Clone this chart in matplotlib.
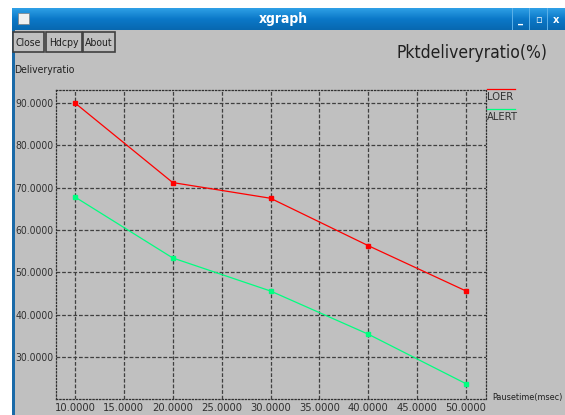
import numpy as np
import matplotlib
matplotlib.use("Agg")
import matplotlib.pyplot as plt
from matplotlib.patches import Rectangle

# data
pause_time = [10, 20, 30, 40, 50]
loer = [90.0, 71.2, 67.5, 56.3, 45.6]
alert = [67.8, 53.4, 45.6, 35.4, 23.7]
x_ticks = [10, 15, 20, 25, 30, 35, 40, 45, 50]
y_ticks = [30, 40, 50, 60, 70, 80, 90]

W, H = 565, 415
plt.rcParams['font.family'] = ['DejaVu Sans']
plt.rcParams['font.stretch'] = 'condensed'

fig = plt.figure(figsize=(W / 100, H / 100), dpi=100)
fig.patch.set_facecolor('white')


def box(x, y, w, h):
    # pixel box (top-left origin) -> figure fractions
    return [x / W, 1 - (y + h) / H, w / W, h / H]


def rect(x, y, w, h, **kw):
    r = Rectangle((x / W, 1 - (y + h) / H), w / W, h / H, transform=fig.transFigure, **kw)
    fig.add_artist(r)
    return r


def txt(x, y, s, **kw):
    kw.setdefault('zorder', 10)
    fig.text(x / W, 1 - y / H, s, **kw)


# window body
rect(12, 8, W - 12, H - 8, facecolor='#c0c0c0', edgecolor='none', zorder=-1)
rect(12, 8, 2.5, H - 8, facecolor='#1a6aa8', edgecolor='none', zorder=-1)

# title bar gradient
tb = fig.add_axes(box(12, 8, W - 12, 22))
grad = np.linspace(0, 1, 50).reshape(-1, 1)
tb.imshow(grad, aspect='auto', cmap=matplotlib.colors.LinearSegmentedColormap.from_list(
    'tb', ['#2ea0e6', '#0b78c8', '#0868b0']), extent=[0, 1, 0, 1])
tb.set_axis_off()
txt(283, 19, 'xgraph', color='white', fontsize=10, fontweight='bold',
    ha='center', va='center')
rect(18, 13, 11, 11, facecolor='#f0f0f0', edgecolor='#808080', lw=0.5, zorder=5)
for bx, sym in [(512, '_'), (529, '▫'), (547, 'x')]:
    rect(bx, 8, 0.8, 22, facecolor='#5ab0e8', edgecolor='none', zorder=5)
    txt(bx + 9, 20, sym, color='white', fontsize=8, fontweight='bold',
        ha='center', va='center')

# buttons
for bx, bw, lab in [(13, 31, 'Close'), (46, 36, 'Hdcpy'), (83, 32, 'About')]:
    rect(bx, 32, bw, 20, facecolor='#c0c0c0', edgecolor='#404040', lw=1.2, zorder=5)
    txt(bx + bw / 2, 43, lab, fontsize=7.5, ha='center', va='center', color='#202020')

txt(14, 70, 'Deliveryratio', fontsize=7.5, va='center', color='#202020')
txt(397, 53, 'Pktdeliveryratio(%)', fontsize=12.5, va='center', color='#202020')
txt(492, 397, 'Pausetime(msec)', fontsize=6.5, va='center', color='#202020')

# plot area
ax = fig.add_axes(box(56, 90, 430, 309))
ax.set_facecolor('#c0c0c0')
ax.set_xlim(8.06, 52.04)
ax.set_ylim(20.1, 93.06)
ax.set_xticks(x_ticks)
ax.set_yticks(y_ticks)
ax.set_xticklabels([f'{v:.4f}' for v in x_ticks])
ax.set_yticklabels([f'{v:.4f}' for v in y_ticks])
ax.tick_params(length=0, labelsize=8, labelcolor='#303030', pad=3)
ax.tick_params(axis='y', labelsize=7.5, pad=2)
ax.grid(True, color='#404040', ls=(0, (3, 1.5)), lw=0.9)
for s in ax.spines.values():
    s.set_linestyle(':')
    s.set_color('#303030')
    s.set_linewidth(0.9)

ax.plot(pause_time, loer, color='#ff0000', lw=0.9, marker='s', ms=3.5, zorder=3)
ax.plot(pause_time, alert, color='#00ff80', lw=0.9, marker='s', ms=3.5, zorder=3)

# legend drawn xgraph-style to the right of the frame
fig.add_artist(plt.Line2D([487 / W, 515 / W], [1 - 89 / H] * 2, color='#ff0000', lw=0.9))
fig.add_artist(plt.Line2D([487 / W, 515 / W], [1 - 109 / H] * 2, color='#00ff80', lw=0.9))
txt(487, 97, 'LOER', fontsize=8, va='center', color='#303030')
txt(487, 117, 'ALERT', fontsize=8, va='center', color='#303030')

fig.savefig('out.png', dpi=100)
